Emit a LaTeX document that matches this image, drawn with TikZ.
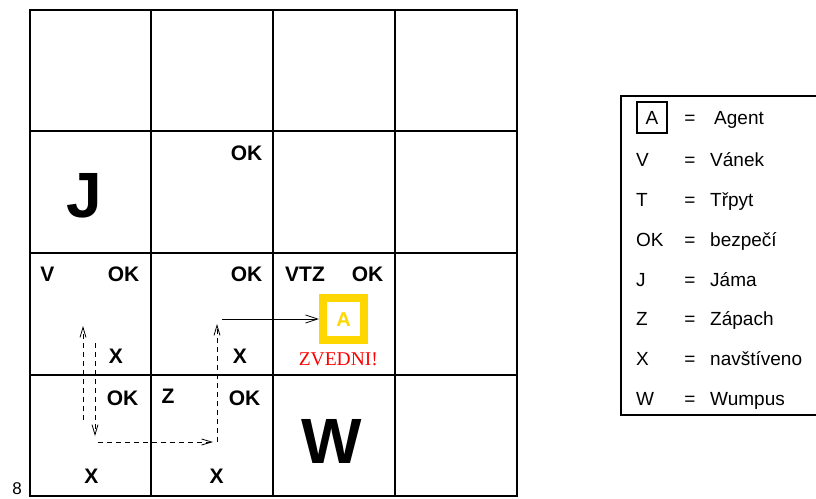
\documentclass[tikz,border=0pt]{standalone}
\usepackage{fontspec}
\setmainfont{Liberation Serif}
\setsansfont{Liberation Sans}
\usetikzlibrary{arrows.meta}
\definecolor{agentgold}{RGB}{255,215,0}
\tikzset{
  lbl/.style={font=\sffamily\bfseries\fontsize{21}{21}\selectfont, inner sep=0pt, anchor=base},
  big/.style={font=\sffamily\bfseries\fontsize{64}{64}\selectfont, inner sep=0pt, anchor=base},
  leg/.style={font=\sffamily\fontsize{19}{19}\selectfont, inner sep=0pt, anchor=base west},
  legeq/.style={font=\sffamily\fontsize{19}{19}\selectfont, inner sep=0pt, anchor=base},
  gridline/.style={line width=1.2pt, black},
  trail/.style={dashed, dash pattern=on 5pt off 4pt, line width=0.8pt, -{Straight Barb[length=10pt, width=6pt]}},
  move/.style={line width=0.8pt, -{Straight Barb[length=12pt, width=8pt]}}
}
\begin{document}
\begin{tikzpicture}[x=1pt, y=-1pt]
\useasboundingbox (0,0) rectangle (816,498);
% grid
\foreach \x in {151,273,395} \draw[gridline] (\x,10) -- (\x,496);
\foreach \y in {131,253,375} \draw[gridline] (30,\y) -- (517,\y);
\draw[line width=1.6pt] (30,10) rectangle (517,496);
% cell labels
\node[big] (J) at (84,217) {J};
\node[big] (W) at (332,463) {W};
\node[lbl] (ok22) at (246.5,160) {OK};
\node[lbl] (v13) at (47.5,281.7) {V};
\node[lbl] (ok13) at (123.5,281.7) {OK};
\node[lbl] (ok23) at (246.5,281.7) {OK};
\node[lbl] (vtz) at (305,281.7) {VTZ};
\node[lbl] (ok33) at (367.5,281.7) {OK};
\node[lbl] (x13) at (116,363.3) {X};
\node[lbl] (x23) at (240,363.3) {X};
\node[lbl] (ok14) at (122.5,405) {OK};
\node[lbl] (z24) at (168,403) {Z};
\node[lbl] (ok24) at (244.5,405) {OK};
\node[lbl] (x14) at (91.5,483) {X};
\node[lbl] (x24) at (216.5,483) {X};
% agent
\draw[agentgold, line width=8pt] (323,298) rectangle (364,340);
\node[draw=none, minimum width=49pt, minimum height=50pt, inner sep=0pt] (agent) at (343.5,319) {};
\node[lbl, font=\sffamily\bfseries\fontsize{20}{20}\selectfont, text=agentgold] (A) at (343.5,326.7) {A};
\node[inner sep=0pt, anchor=base, text=red, font=\rmfamily\fontsize{19.5}{20}\selectfont] (zvedni) at (338.3,365) {ZVEDNI!};
% trail
\coordinate (u1) at (83,420);
\coordinate (u2) at (83,326);
\coordinate (d1) at (95,343);
\coordinate (d2) at (95,436);
\coordinate (h1) at (98,442);
\coordinate (h2) at (213,442);
\coordinate (v1) at (217,442);
\coordinate (v2) at (217,324);
\coordinate (m1) at (222,319);
\draw[trail] (u1) -- (u2);
\draw[trail] (d1) -- (d2);
\draw[trail] (h1) -- (h2);
\draw[trail] (v1) -- (v2);
\draw[move] (m1) -- (agent.west);
% stray label
\node[font=\sffamily\fontsize{17}{17}\selectfont, inner sep=0pt, anchor=base] (eight) at (17,494) {8};
% legend
\draw[line width=1.6pt] (830,96) -- (621,96) -- (621,415) -- (830,415);
\node[draw, line width=1.2pt, minimum width=30pt, minimum height=31pt, inner sep=0pt] (abox) at (652,117.5) {};
\node[leg, anchor=base] (la) at (652,124.3) {A};
\node[legeq] (ea) at (690,124.3) {=};
\node[leg] (ta) at (714,124.3) {Agent};
\foreach \s/\w/\b [count=\i] in {V/Vánek/166, T/Třpyt/206.5, OK/bezpečí/246.5, J/Jáma/286.5, Z/Zápach/325.5, X/navštíveno/365, W/Wumpus/405}{
  \node[leg] (ls\i) at (636,\b) {\s};
  \node[legeq] (le\i) at (690,\b) {=};
  \node[leg] (lw\i) at (710,\b) {\w};
}
\end{tikzpicture}
\end{document}
